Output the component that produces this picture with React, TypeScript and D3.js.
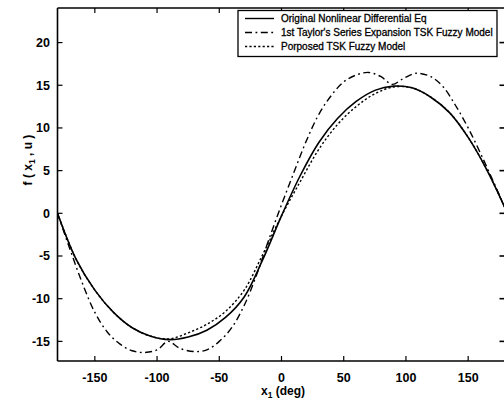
import React from 'react'
import * as d3 from 'd3'

// angle samples (deg) and curve values
const origX = [-180, -165, -150, -135, -120, -105, -90, -75, -60, -45, -30, -15, 0, 15, 30, 45, 60, 75, 90, 105, 120, 135, 150, 165, 180]
const origY = [0, -5.4, -9.0, -11.6, -13.4, -14.4, -14.8, -14.5, -13.7, -12.2, -9.8, -5.4, -0.3, 4.4, 8.3, 11.1, 13.1, 14.4, 14.9, 14.7, 13.6, 11.8, 8.9, 5.1, 0.5]

const taylorX = [-180, -170, -160, -150, -140, -130, -120, -110, -100, -91, -82, -70, -60, -50, -40, -30, -20, -10, 0, 10, 20, 30, 40, 50, 60, 70, 80, 89, 98, 108, 120, 130, 140, 150, 160, 170, 180]
const taylorY = [0, -4.2, -8.2, -11.6, -13.9, -15.3, -16.1, -16.3, -16.0, -15.0, -15.8, -16.2, -16.0, -15.0, -13.4, -10.8, -7.2, -3.0, 1.0, 4.8, 8.5, 11.6, 13.8, 15.4, 16.2, 16.5, 16.0, 15.1, 15.8, 16.4, 16.0, 14.8, 12.6, 10.0, 7.0, 3.8, 0.5]

const propX = origX
const propY = [0, -5.4, -9.0, -11.6, -13.4, -14.4, -14.7, -14.0, -13.0, -11.5, -9.0, -4.8, -0.3, 3.7, 7.5, 10.4, 12.5, 14.0, 14.8, 14.7, 13.6, 11.8, 8.9, 5.1, 0.5]

const xTicks = [-150, -100, -50, 0, 50, 100, 150]
const yTicks = [-15, -10, -5, 0, 5, 10, 15, 20]

const legendNames = [
  'Original Nonlinear Differential Eq',
  "1st Taylor's Series Expansion TSK Fuzzy Model",
  'Porposed TSK Fuzzy Model',
]
const dashes = ['none', '7,3.5,1.8,3.5', '2.2,2.2']

const W = 504
const H = 402
const FONT = '"Liberation Sans", Arial, Helvetica, sans-serif'

export default function App() {
  const x = d3.scaleLinear().domain([-180, 180]).range([57.5, 505.5])
  const y = d3.scaleLinear().domain([-17.3, 24.05]).range([361, 8])

  const line = d3.line<[number, number]>()
    .x(d => x(d[0]))
    .y(d => y(d[1]))
    .curve(d3.curveCatmullRom)

  const series = [
    d3.zip(origX, origY) as [number, number][],
    d3.zip(taylorX, taylorY) as [number, number][],
    d3.zip(propX, propY) as [number, number][],
  ]

  const [x0, x1] = x.range()
  const [y0, y1] = y.range()

  return (
    <svg width={W} height={H} style={{ position: 'fixed', left: 0, top: 0, background: '#fff' }}
      fontFamily={FONT}>
      <rect width={W} height={H} fill="#fff" />

      <clipPath id="plotclip">
        <rect x={x0} y={y1} width={x1 - x0} height={y0 - y1} />
      </clipPath>

      {/* curves */}
      <g clipPath="url(#plotclip)" fill="none" stroke="#000">
        {series.map((s, i) => (
          <path key={i} d={line(s) || ''} strokeWidth={i === 0 ? 1.6 : 1.4}
            strokeDasharray={dashes[i]} />
        ))}
      </g>

      {/* frame */}
      <g stroke="#000" fill="none">
        <line x1={x0} y1={y0} x2={x1} y2={y0} strokeWidth={1.6} />
        <line x1={x0} y1={y0} x2={x0} y2={y1} strokeWidth={1.6} />
        <line x1={x0} y1={y1} x2={x1} y2={y1} strokeWidth={1.3} />
        <line x1={x1} y1={y0} x2={x1} y2={y1} strokeWidth={1.3} />
        {xTicks.map(t => (
          <g key={t}>
            <line x1={x(t)} x2={x(t)} y1={y0} y2={y0 - 5} strokeWidth={1.2} />
            <line x1={x(t)} x2={x(t)} y1={y1} y2={y1 + 5} strokeWidth={1.2} />
          </g>
        ))}
        {yTicks.map(t => (
          <g key={t}>
            <line x1={x0} x2={x0 + 5} y1={y(t)} y2={y(t)} strokeWidth={1.2} />
            <line x1={x1 - 6} x2={x1 - 1} y1={y(t)} y2={y(t)} strokeWidth={1.6} />
          </g>
        ))}
      </g>

      {/* tick labels */}
      <g fontSize={12.5} fontWeight="bold" fill="#000">
        {xTicks.map(t => (
          <text key={t} x={x(t)} y={382} textAnchor="middle">{t}</text>
        ))}
        {yTicks.map(t => (
          <text key={t} x={50} y={y(t) + 4.5} textAnchor="end">{t}</text>
        ))}
      </g>

      {/* axis labels */}
      <text x={283} y={395} textAnchor="middle" fontSize={12} fontWeight="bold">
        x<tspan fontSize={8.5} dy={3}>1</tspan><tspan dy={-3}> (deg)</tspan>
      </text>
      <text transform="translate(32,160) rotate(-90)" textAnchor="middle" fontSize={12} fontWeight="bold">
        f ( x<tspan fontSize={8.5} dy={3}>1</tspan><tspan dy={-3}> , u )</tspan>
      </text>

      {/* legend */}
      <g>
        <rect x={238} y={10.5} width={259} height={46} fill="#fff" stroke="#000" strokeWidth={1.3} />
        {legendNames.map((name, i) => {
          const ly = 18.5 + i * 14
          return (
            <g key={name}>
              <line x1={245} x2={274} y1={ly} y2={ly} stroke="#000" strokeWidth={1.4}
                strokeDasharray={dashes[i]} />
              <text x={281} y={ly + 3.8} fontSize={10} stroke="#000" strokeWidth={0.3}>{name}</text>
            </g>
          )
        })}
      </g>
    </svg>
  )
}
